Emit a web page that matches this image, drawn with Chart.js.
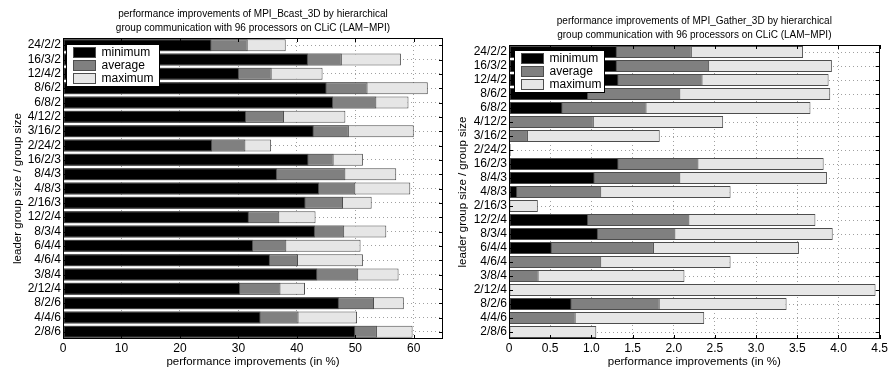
<!DOCTYPE html>
<html>
<head>
<meta charset="utf-8">
<script src="https://cdn.jsdelivr.net/npm/chart.js@4.4.1/dist/chart.umd.min.js"></script>
<style>
  body { margin: 0; background: #fff; }
  #wrap { position: relative; width: 890px; height: 371px; }
  .panel { position: absolute; top: 0; width: 445px; height: 371px; }
</style>
</head>
<body>
<div id="wrap">
  <div class="panel" style="left:0"><canvas id="bcast" width="445" height="371"></canvas></div>
  <div class="panel" style="left:445px"><canvas id="gather" width="445" height="371"></canvas></div>
</div>
<script>
// leader group size / group size / number of groups
const categories = ['24/2/2', '16/3/2', '12/4/2', '8/6/2', '6/8/2', '4/12/2', '3/16/2', '2/24/2',
    '16/2/3', '8/4/3', '4/8/3', '2/16/3', '12/2/4', '8/3/4', '6/4/4', '4/6/4', '3/8/4', '2/12/4',
    '8/2/6', '4/4/6', '2/8/6'];

// MPI_Bcast_3D improvements (in %)
const bcastMin = [25.4, 41.9, 30.1, 45.1, 46.2, 31.3, 42.9, 25.5, 42.0, 36.6, 43.8, 41.5, 31.8, 43.1, 32.5, 35.4, 43.5, 30.3, 47.2, 33.8, 50.0];
const bcastAvg = [31.6, 47.7, 35.7, 52.1, 53.6, 37.8, 48.9, 31.2, 46.3, 48.3, 50.0, 47.9, 37.0, 48.1, 38.2, 40.2, 50.5, 37.2, 53.2, 40.3, 53.7];
const bcastMax = [38.1, 57.8, 44.4, 62.4, 59.1, 48.3, 60.0, 35.6, 51.3, 57.0, 59.4, 52.8, 43.2, 55.3, 50.9, 51.3, 57.4, 41.4, 58.3, 50.3, 59.8];

// MPI_Gather_3D improvements (in %)
const gatherMin = [1.31, 1.31, 1.33, 0.96, 0.65, 0, 0, 0, 1.33, 1.04, 0.10, 0, 0.96, 1.08, 0.52, 0, 0, 0, 0.76, 0, 0];
const gatherAvg = [2.22, 2.43, 2.35, 2.08, 1.67, 1.03, 0.23, 0.01, 2.30, 2.08, 1.12, 0, 2.19, 2.02, 1.76, 1.12, 0.36, 0, 1.83, 0.81, 0];
const gatherMax = [3.57, 3.92, 3.88, 3.90, 3.66, 2.60, 1.83, 0.02, 3.82, 3.86, 2.69, 0.35, 3.72, 3.93, 3.52, 2.69, 2.13, 4.45, 3.37, 2.37, 1.06];

const seriesNames = ['minimum', 'average', 'maximum'];
const seriesColors = ['#000000', '#808080', '#e6e6e6'];

const FONT = "'Liberation Sans', Arial, Helvetica, sans-serif";

// box around the axes, inward tick marks and the boxed legend
const frameAndLegend = {
    id: 'frameAndLegend',
    afterDatasetsDraw(chart, args, opts) {
        const { ctx, chartArea: a, scales } = chart;
        ctx.save();
        ctx.strokeStyle = '#000';
        ctx.lineWidth = 1;
        ctx.beginPath();
        scales.y.ticks.forEach((t, i) => {
            const y = Math.round(scales.y.getPixelForTick(i)) + 0.5;
            ctx.moveTo(a.left, y); ctx.lineTo(a.left + 4, y);
            ctx.moveTo(a.right, y); ctx.lineTo(a.right - 4, y);
        });
        scales.x.ticks.forEach((t, i) => {
            const x = Math.round(scales.x.getPixelForTick(i)) + 0.5;
            ctx.moveTo(x, a.bottom); ctx.lineTo(x, a.bottom - 4);
            ctx.moveTo(x, a.top); ctx.lineTo(x, a.top + 4);
        });
        ctx.stroke();
        ctx.strokeRect(Math.round(a.left) + 0.5, Math.round(a.top) + 0.5,
            Math.round(a.right - a.left) - 1, Math.round(a.bottom - a.top) - 1);

        // legend
        const bx = Math.round(a.left) + opts.dx + 0.5;
        const by = Math.round(a.top) + opts.dy + 0.5;
        ctx.fillStyle = '#fff';
        ctx.fillRect(bx, by, opts.width, 42);
        ctx.strokeRect(bx, by, opts.width, 42);
        ctx.font = '12px ' + FONT;
        ctx.textBaseline = 'middle';
        chart.data.datasets.forEach((ds, i) => {
            const cy = by + 8 + i * 13;
            ctx.fillStyle = ds.backgroundColor;
            ctx.fillRect(bx + 7, cy - 5, 22, 10);
            ctx.strokeStyle = '#4d4d4d';
            ctx.strokeRect(bx + 7, cy - 5, 22, 10);
            ctx.fillStyle = '#000';
            ctx.fillText(ds.label, bx + 35, cy + 0.5);
        });
        ctx.restore();
    }
};

function makeChart(canvasId, title, values, xMax, step, padTop, padRight, legendOpts) {
    const datasets = values.map((data, i) => ({
        label: seriesNames[i],
        data: data,
        order: i,
        grouped: false,
        backgroundColor: seriesColors[i],
        borderColor: '#4d4d4d',
        borderWidth: 1,
        borderSkipped: false,
        categoryPercentage: 1,
        barPercentage: 0.84
    }));

    return new Chart(document.getElementById(canvasId), {
        type: 'bar',
        data: { labels: categories, datasets: datasets },
        options: {
            indexAxis: 'y',
            responsive: false,
            animation: false,
            layout: { padding: { right: padRight, top: 0, bottom: 0, left: 0 } },
            plugins: {
                legend: { display: false },
                tooltip: { enabled: false },
                title: {
                    display: true,
                    text: title,
                    fullSize: false,
                    color: '#000',
                    font: { family: FONT, size: 10, weight: 'normal', lineHeight: 1.4 },
                    padding: { top: padTop, bottom: 3 }
                },
                frameAndLegend: legendOpts
            },
            scales: {
                x: {
                    min: 0,
                    max: xMax,
                    ticks: {
                        stepSize: step,
                        includeBounds: false,
                        color: '#000',
                        padding: 2,
                        font: { family: FONT, size: 12 }
                    },
                    grid: { color: '#a0a0a0', drawTicks: false },
                    border: { display: false, dash: [1, 3] },
                    title: {
                        display: true,
                        text: 'performance improvements (in %)',
                        color: '#000',
                        font: { family: FONT, size: 11.5 },
                        padding: { top: 0, bottom: 2 }
                    },
                    afterFit(scale) { scale.height = 32; }
                },
                y: {
                    ticks: {
                        color: '#000',
                        padding: 2,
                        autoSkip: false,
                        font: { family: FONT, size: 12 }
                    },
                    grid: { color: '#a0a0a0', drawTicks: false, offset: false },
                    border: { display: false, dash: [1, 3] },
                    title: {
                        display: true,
                        text: 'leader group size / group size',
                        color: '#000',
                        font: { family: FONT, size: 11.5 },
                        padding: { top: 11, bottom: 0 }
                    },
                    afterFit(scale) { scale.width = legendOpts.axisWidth; }
                }
            }
        },
        plugins: [frameAndLegend]
    });
}

makeChart('bcast',
    ['performance improvements of MPI_Bcast_3D by hierarchical',
     'group communication with 96 processors on CLiC (LAM\u2212MPI)'],
    [bcastMin, bcastAvg, bcastMax], 65, 10, 7, 2,
    { dx: 3, dy: 6, width: 93, axisWidth: 63 });

makeChart('gather',
    ['performance improvements of MPI_Gather_3D by hierarchical',
     'group communication with 96 processors on CLiC (LAM\u2212MPI)'],
    [gatherMin, gatherAvg, gatherMax], 4.5, 0.5, 14, 10,
    { dx: 5, dy: 5, width: 90, axisWidth: 64 });
</script>
</body>
</html>
